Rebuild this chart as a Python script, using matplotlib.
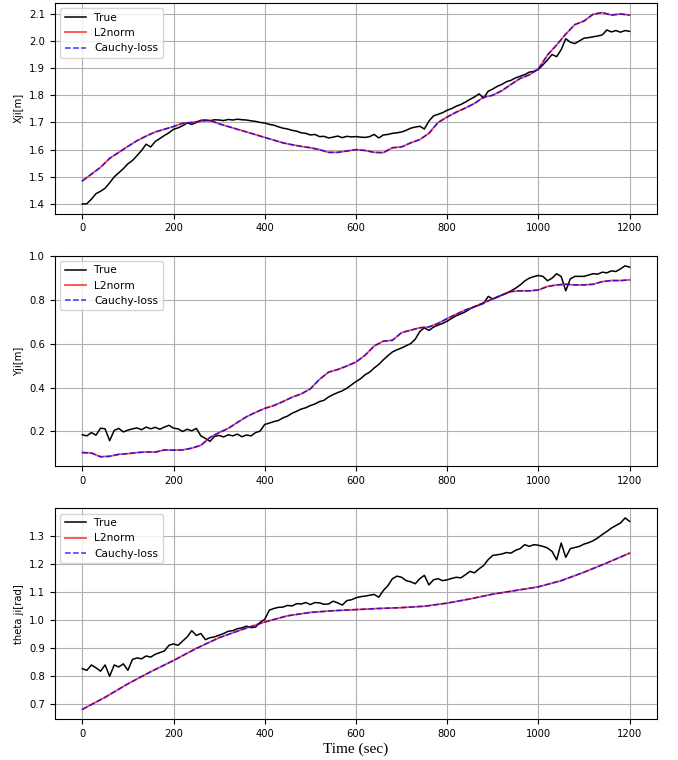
import numpy as np
import matplotlib
matplotlib.use("Agg")
import matplotlib.pyplot as plt

# time axes
t_true = np.arange(0, 1201, 10)
t_est = np.arange(0, 1201, 20)
t_theta_est = np.arange(0, 1201, 50)

x_true = [1.400, 1.401, 1.418, 1.438, 1.447, 1.458, 1.478, 1.500, 1.515, 1.530,
          1.548, 1.560, 1.578, 1.597, 1.620, 1.610, 1.630, 1.641, 1.652, 1.662,
          1.675, 1.680, 1.688, 1.698, 1.693, 1.700, 1.708, 1.709, 1.706, 1.710,
          1.709, 1.707, 1.711, 1.709, 1.712, 1.710, 1.709, 1.706, 1.704, 1.700,
          1.698, 1.693, 1.690, 1.684, 1.679, 1.676, 1.671, 1.668, 1.662, 1.660,
          1.654, 1.656, 1.648, 1.649, 1.643, 1.646, 1.650, 1.644, 1.649, 1.647,
          1.648, 1.646, 1.645, 1.648, 1.656, 1.643, 1.654, 1.656, 1.660, 1.662,
          1.665, 1.671, 1.679, 1.683, 1.686, 1.676, 1.705, 1.724, 1.730, 1.736,
          1.745, 1.751, 1.760, 1.766, 1.775, 1.785, 1.794, 1.805, 1.790, 1.815,
          1.823, 1.833, 1.840, 1.850, 1.855, 1.864, 1.870, 1.876, 1.885, 1.888,
          1.895, 1.912, 1.930, 1.950, 1.942, 1.968, 2.008, 1.995, 1.990, 2.000,
          2.010, 2.012, 2.015, 2.018, 2.022, 2.040, 2.033, 2.038, 2.032, 2.038,
          2.035]
x_est = [1.485, 1.510, 1.535, 1.568, 1.590, 1.612, 1.633, 1.650, 1.665, 1.675,
         1.685, 1.697, 1.700, 1.705, 1.708, 1.695, 1.685, 1.675, 1.665, 1.655,
         1.645, 1.635, 1.625, 1.618, 1.612, 1.607, 1.600, 1.590, 1.590, 1.595,
         1.600, 1.597, 1.590, 1.589, 1.607, 1.610, 1.625, 1.637, 1.660, 1.700,
         1.720, 1.738, 1.753, 1.770, 1.793, 1.800, 1.817, 1.840, 1.862, 1.875,
         1.897, 1.948, 1.985, 2.025, 2.060, 2.073, 2.098, 2.104, 2.095, 2.099,
         2.095]

y_true = [0.185, 0.180, 0.195, 0.183, 0.215, 0.212, 0.158, 0.205, 0.214, 0.198,
          0.206, 0.212, 0.216, 0.208, 0.220, 0.212, 0.219, 0.210, 0.220, 0.228,
          0.215, 0.212, 0.200, 0.210, 0.203, 0.214, 0.180, 0.168, 0.155, 0.178,
          0.182, 0.175, 0.185, 0.180, 0.188, 0.176, 0.184, 0.180, 0.195, 0.202,
          0.232, 0.238, 0.245, 0.250, 0.262, 0.270, 0.283, 0.292, 0.302, 0.308,
          0.318, 0.325, 0.336, 0.342, 0.357, 0.368, 0.377, 0.385, 0.397, 0.412,
          0.427, 0.440, 0.458, 0.470, 0.489, 0.505, 0.526, 0.545, 0.562, 0.572,
          0.580, 0.590, 0.600, 0.620, 0.655, 0.672, 0.660, 0.675, 0.684, 0.692,
          0.702, 0.715, 0.727, 0.735, 0.745, 0.758, 0.768, 0.775, 0.783, 0.815,
          0.803, 0.812, 0.821, 0.830, 0.840, 0.852, 0.867, 0.885, 0.898, 0.905,
          0.910, 0.906, 0.886, 0.898, 0.918, 0.905, 0.840, 0.895, 0.906, 0.906,
          0.906, 0.912, 0.918, 0.916, 0.925, 0.922, 0.931, 0.928, 0.940, 0.954,
          0.948]
y_est = [0.104, 0.102, 0.085, 0.087, 0.096, 0.099, 0.104, 0.107, 0.106, 0.116,
         0.115, 0.116, 0.124, 0.137, 0.173, 0.195, 0.214, 0.241, 0.267, 0.287,
         0.305, 0.318, 0.336, 0.356, 0.371, 0.394, 0.437, 0.470, 0.482, 0.498,
         0.516, 0.547, 0.589, 0.611, 0.615, 0.650, 0.661, 0.672, 0.676, 0.692,
         0.714, 0.734, 0.753, 0.768, 0.786, 0.803, 0.821, 0.837, 0.840, 0.840,
         0.844, 0.860, 0.867, 0.870, 0.867, 0.867, 0.870, 0.882, 0.887, 0.887,
         0.890]

th_true = [0.827, 0.821, 0.840, 0.830, 0.818, 0.840, 0.800, 0.840, 0.833, 0.844,
           0.821, 0.860, 0.865, 0.862, 0.872, 0.868, 0.878, 0.884, 0.890, 0.910,
           0.915, 0.910, 0.925, 0.940, 0.962, 0.945, 0.952, 0.930, 0.937, 0.940,
           0.946, 0.952, 0.960, 0.962, 0.969, 0.972, 0.978, 0.973, 0.975, 0.992,
           1.002, 1.035, 1.041, 1.045, 1.046, 1.052, 1.050, 1.058, 1.057, 1.062,
           1.055, 1.062, 1.061, 1.056, 1.057, 1.067, 1.061, 1.053, 1.069, 1.072,
           1.079, 1.083, 1.085, 1.088, 1.091, 1.081, 1.105, 1.122, 1.147, 1.156,
           1.152, 1.140, 1.136, 1.129, 1.147, 1.159, 1.125, 1.143, 1.147, 1.140,
           1.143, 1.148, 1.152, 1.150, 1.161, 1.173, 1.168, 1.182, 1.194, 1.215,
           1.230, 1.232, 1.235, 1.240, 1.238, 1.248, 1.254, 1.268, 1.262, 1.268,
           1.266, 1.262, 1.256, 1.244, 1.214, 1.274, 1.223, 1.254, 1.258, 1.262,
           1.270, 1.275, 1.282, 1.292, 1.304, 1.315, 1.327, 1.336, 1.345, 1.363,
           1.351]
th_est = [0.682, 0.725, 0.773, 0.816, 0.856, 0.899, 0.937, 0.966, 0.993, 1.015,
          1.027, 1.033, 1.037, 1.041, 1.044, 1.049, 1.060, 1.075, 1.092, 1.105,
          1.118, 1.140, 1.170, 1.203, 1.238]

ylabels = ["Xji[m]", "Yji[m]", "theta ji[rad]"]

fig, axs = plt.subplots(3, 1, figsize=(6.78, 7.6), dpi=100)
plt.subplots_adjust(left=0.081, right=0.969, top=0.996, bottom=0.054, hspace=0.2)

panels = [(t_true, x_true, t_est, x_est),
          (t_true, y_true, t_est, y_est),
          (t_true, th_true, t_theta_est, th_est)]

for ax, (tt, vt, te, ve), lab in zip(axs, panels, ylabels):
    ax.plot(tt, vt, color='black', lw=1.1, label='True')
    ax.plot(te, ve, color='red', lw=1.3, alpha=0.7, label='L2norm')
    ax.plot(te, ve, color='blue', lw=1.1, ls='--', alpha=0.8, label='Cauchy-loss')
    ax.grid(True)
    ax.set_ylabel(lab, fontsize=7.2)
    ax.tick_params(labelsize=7.2)
    ax.legend(loc='upper left', fontsize=7.7)

axs[0].set_yticks([1.4, 1.5, 1.6, 1.7, 1.8, 1.9, 2.0, 2.1])
axs[1].set_yticks([0.2, 0.4, 0.6, 0.8, 1.0])
axs[2].set_xlabel('Time (sec)', fontsize=11, family='Liberation Serif', labelpad=3)

plt.savefig('out.png', dpi=100)
